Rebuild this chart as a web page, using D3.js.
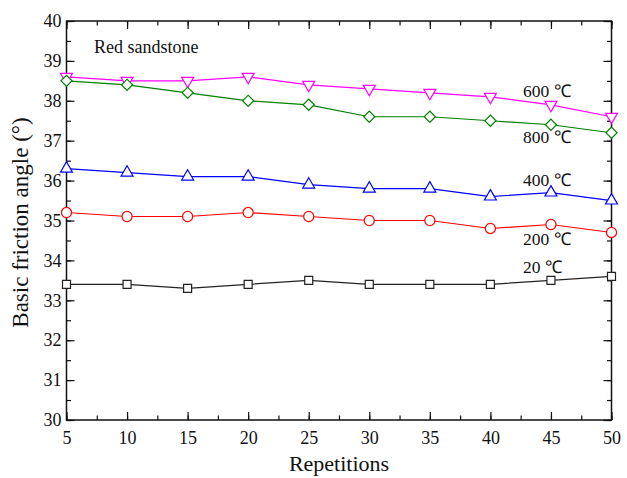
<!DOCTYPE html>
<html>
<head>
<meta charset="utf-8">
<script src="https://cdn.jsdelivr.net/npm/d3@7"></script>
<style>
  body { margin: 0; background: #fff; }
  svg { display: block; }
  text { font-family: "Liberation Serif", "Times New Roman", serif; fill: #111; }
</style>
</head>
<body>
<svg id="chart" width="627" height="478"></svg>
<script>
// Repetition counts along the x axis
const repetitions = [5, 10, 15, 20, 25, 30, 35, 40, 45, 50];

// Basic friction angle (°) per treatment temperature
const temp20  = [33.4, 33.4, 33.3, 33.4, 33.5, 33.4, 33.4, 33.4, 33.5, 33.6];
const temp200 = [35.2, 35.1, 35.1, 35.2, 35.1, 35.0, 35.0, 34.8, 34.9, 34.7];
const temp400 = [36.3, 36.2, 36.1, 36.1, 35.9, 35.8, 35.8, 35.6, 35.7, 35.5];
const temp600 = [38.6, 38.5, 38.5, 38.6, 38.4, 38.3, 38.2, 38.1, 37.9, 37.6];
const temp800 = [38.5, 38.4, 38.2, 38.0, 37.9, 37.6, 37.6, 37.5, 37.4, 37.2];

const seriesLabels = ["20 ℃", "200 ℃", "400 ℃", "600 ℃", "800 ℃"];
const xTicks = [5, 10, 15, 20, 25, 30, 35, 40, 45, 50];
const yTicks = [30, 31, 32, 33, 34, 35, 36, 37, 38, 39, 40];

// Square diamond: a square symbol turned by 45°
const series = [
  { name: seriesLabels[0], values: temp20,  color: "#222222", symbol: d3.symbolSquare,   size: 64,  rotate: 0,   lx: 523, ly: 273 },
  { name: seriesLabels[1], values: temp200, color: "#ff0000", symbol: d3.symbolCircle,   size: 80,  rotate: 0,   lx: 523, ly: 245 },
  { name: seriesLabels[2], values: temp400, color: "#0000ff", symbol: d3.symbolTriangle, size: 62,  rotate: 0,   lx: 523, ly: 186 },
  { name: seriesLabels[3], values: temp600, color: "#ff00ff", symbol: d3.symbolTriangle, size: 62,  rotate: 180, lx: 523, ly: 97 },
  { name: seriesLabels[4], values: temp800, color: "#008000", symbol: d3.symbolSquare,   size: 62,  rotate: 45,  lx: 523, ly: 143 }
];

const svg = d3.select("#chart");
const mLeft = 66.5, mRight = 611.5, mTop = 21, mBottom = 420;

const x = d3.scaleLinear().domain([5, 50]).range([mLeft, mRight]);
const y = d3.scaleLinear().domain([30, 40]).range([mBottom, mTop]);

const minorX = d3.range(5, 50.01, 2.5);
const minorY = d3.range(30, 40.01, 0.5);

// Axes with inward ticks on all four sides
const tickStyle = g => {
  g.select(".domain").remove();
  g.selectAll("line").attr("stroke", "#111").attr("stroke-width", 1.2);
  g.selectAll("text").attr("font-size", 18).attr("fill", "#111");
};

svg.append("g").attr("transform", `translate(0,${mBottom})`)
  .call(d3.axisBottom(x).tickValues(minorX).tickSize(-4.5).tickFormat(""))
  .call(tickStyle);
svg.append("g").attr("transform", `translate(0,${mBottom})`)
  .call(d3.axisBottom(x).tickValues(xTicks).tickSize(-8).tickPadding(11).tickFormat(d3.format("d")))
  .call(tickStyle);

svg.append("g").attr("transform", `translate(0,${mTop})`)
  .call(d3.axisTop(x).tickValues(minorX).tickSize(-4.5).tickFormat(""))
  .call(tickStyle);
svg.append("g").attr("transform", `translate(0,${mTop})`)
  .call(d3.axisTop(x).tickValues(xTicks).tickSize(-8).tickFormat(""))
  .call(tickStyle);

svg.append("g").attr("transform", `translate(${mLeft},0)`)
  .call(d3.axisLeft(y).tickValues(minorY).tickSize(-4.5).tickFormat(""))
  .call(tickStyle);
svg.append("g").attr("transform", `translate(${mLeft},0)`)
  .call(d3.axisLeft(y).tickValues(yTicks).tickSize(-8).tickPadding(5).tickFormat(d3.format("d")))
  .call(tickStyle);

svg.append("g").attr("transform", `translate(${mRight},0)`)
  .call(d3.axisRight(y).tickValues(minorY).tickSize(-4.5).tickFormat(""))
  .call(tickStyle);
svg.append("g").attr("transform", `translate(${mRight},0)`)
  .call(d3.axisRight(y).tickValues(yTicks).tickSize(-8).tickFormat(""))
  .call(tickStyle);

// Frame
svg.append("rect")
  .attr("x", mLeft).attr("y", mTop)
  .attr("width", mRight - mLeft).attr("height", mBottom - mTop)
  .attr("fill", "none").attr("stroke", "#111").attr("stroke-width", 1.5);

// Lines and markers
const line = d3.line().x((d, i) => x(repetitions[i])).y(d => y(d));

series.forEach(s => {
  const g = svg.append("g");
  g.append("path")
    .datum(s.values)
    .attr("d", line)
    .attr("fill", "none")
    .attr("stroke", s.color)
    .attr("stroke-width", 1.2);
  g.selectAll("path.mark")
    .data(s.values)
    .join("path")
    .attr("class", "mark")
    .attr("d", d3.symbol().type(s.symbol).size(s.size))
    .attr("transform", (d, i) => `translate(${x(repetitions[i])},${y(d)}) rotate(${s.rotate})`)
    .attr("fill", "#fff")
    .attr("stroke", s.color)
    .attr("stroke-width", 1.2);
  svg.append("text")
    .attr("x", s.lx).attr("y", s.ly)
    .attr("font-size", 17.5)
    .text(s.name);
});

// Annotation and titles
svg.append("text")
  .attr("x", 94).attr("y", 53)
  .attr("font-size", 18)
  .text("Red sandstone");

svg.append("text")
  .attr("x", (mLeft + mRight) / 2).attr("y", 471)
  .attr("text-anchor", "middle")
  .attr("font-size", 22)
  .text("Repetitions");

svg.append("text")
  .attr("transform", `translate(28,${(mTop + mBottom) / 2 + 2}) rotate(-90)`)
  .attr("text-anchor", "middle")
  .attr("font-size", 23)
  .text("Basic friction angle (°)");
</script>
</body>
</html>
